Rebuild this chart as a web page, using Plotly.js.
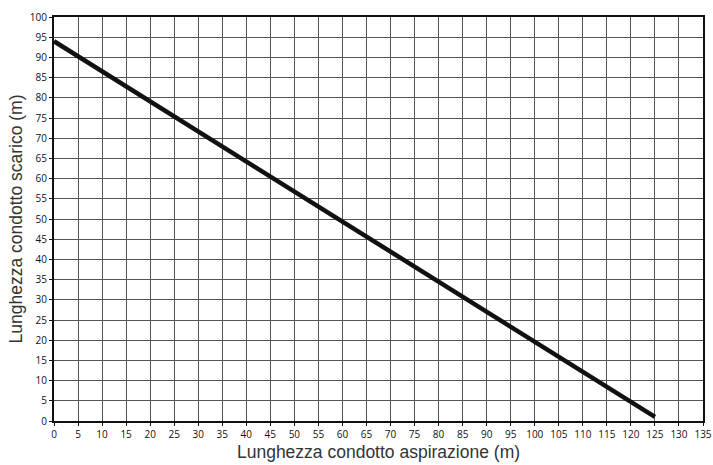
<!DOCTYPE html>
<html><head><meta charset="utf-8">
<script src="https://cdn.plot.ly/plotly-3.0.1.min.js"></script>
<style>body{margin:0;background:#fff}#c{width:713px;height:465px}</style>
</head><body><div id="c"></div>
<script>
const aspirazione = [0, 125];
const scarico = [94, 1];
const xTicks = [0,5,10,15,20,25,30,35,40,45,50,55,60,65,70,75,80,85,90,95,100,105,110,115,120,125,130,135];
const yTicks = [0,5,10,15,20,25,30,35,40,45,50,55,60,65,70,75,80,85,90,95,100];

Plotly.newPlot('c', [{
  x: aspirazione, y: scarico, mode: 'lines', type: 'scatter',
  line: {color: '#111', width: 4.5}, hoverinfo: 'skip'
}], {
  width: 713, height: 465,
  margin: {l: 54, r: 10, t: 17, b: 44},
  paper_bgcolor: '#fff', plot_bgcolor: '#fff',
  showlegend: false,
  xaxis: {
    range: [0, 135], tickmode: 'array', tickvals: xTicks, ticktext: xTicks.map(String),
    showgrid: true, gridcolor: '#555', gridwidth: 1,
    showline: true, linecolor: '#111', linewidth: 2, mirror: true,
    ticks: 'outside', ticklen: 3, tickcolor: '#111', tickwidth: 1,
    tickfont: {family: 'Open Sans', size: 10, color: '#111'},
    zeroline: false,
    title: {text: 'Lunghezza condotto aspirazione (m)', font: {family: 'Liberation Sans, Arial', size: 17.5, color: '#333'}, standoff: 6}
  },
  yaxis: {
    range: [0, 100], tickmode: 'array', tickvals: yTicks, ticktext: yTicks.map(String),
    showgrid: true, gridcolor: '#555', gridwidth: 1,
    showline: true, linecolor: '#111', linewidth: 2, mirror: true,
    ticks: 'outside', ticklen: 3, tickcolor: '#111', tickwidth: 1,
    tickfont: {family: 'Open Sans', size: 10, color: '#111'},
    zeroline: false,
    title: {text: 'Lunghezza condotto scarico (m)', font: {family: 'Liberation Sans, Arial', size: 17.5, color: '#333'}, standoff: 3}
  }
}, {staticPlot: true});
</script></body></html>
